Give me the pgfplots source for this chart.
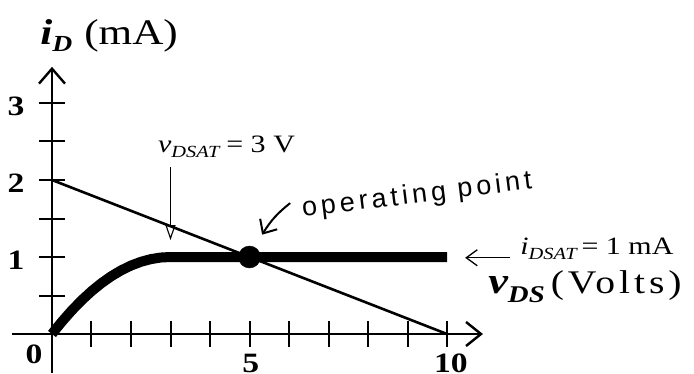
\documentclass[border=0pt]{standalone}
\usepackage{fontspec}
\setmainfont{Liberation Serif}[FakeStretch=1.2]
\newfontfamily\handfont{Liberation Sans}[LetterSpace=15]
\usepackage{pgfplots}
\pgfplotsset{compat=1.18}
\usetikzlibrary{arrows.meta}

% transfer characteristic of the device (mA against V)
\pgfplotstableread{
v     i
0     0
0.1   0.0656
0.25  0.1597
0.5   0.3056
0.75  0.4375
1     0.5556
1.25  0.6597
1.5   0.75
1.75  0.8264
2     0.8889
2.25  0.9375
2.5   0.9722
2.75  0.9931
3     1
10    1
}\idcurve

% load line
\pgfplotstableread{
v   i
0   2
10  0
}\loadline

\newcommand{\sz}[1]{\fontsize{#1}{#1}\selectfont}

\begin{document}
\begin{tikzpicture}
\useasboundingbox (-52pt,-39pt) rectangle (642pt,334pt);
\begin{axis}[
  at={(0,0)}, anchor=origin,
  x=39.5pt, y=77pt,
  xmin=-1.01, xmax=10.91, ymin=-0.5, ymax=3.47,
  axis lines=middle,
  clip=false,
  axis line style={line width=2.6pt},
  every inner x axis line/.append style={-{Straight Barb[length=15pt,width=24pt,line width=2.4pt]}},
  every inner y axis line/.append style={-{Straight Barb[length=15pt,width=26pt,line width=2.4pt]}},
  xtick={1,2,...,10}, ytick={0.5,1,1.5,2,2.5,3},
  xticklabels={}, yticklabels={},
  tick align=center, major tick length=26pt,
  tick style={line width=2pt, black},
]
\addplot[line width=10pt, line cap=butt, line join=round] table[x=v, y=i] {\idcurve};
\addplot[line width=2.6pt] table[x=v, y=i] {\loadline};
\addplot[only marks, mark=*, mark size=11pt, black] coordinates {(5,1)};

% tick numbers
\node[anchor=center, inner sep=0] at (axis cs:-0.456,-0.27) {\sz{28}\bfseries 0};
\node[anchor=north, inner sep=0] at (axis cs:5.03,-0.26) {\sz{28}\bfseries 5};
\node[anchor=north, inner sep=0] at (axis cs:10.1,-0.25) {\sz{28}\bfseries 10};
\node[anchor=center, inner sep=0] at (axis cs:-0.91,2.96) {\sz{28}\bfseries 3};
\node[anchor=center, inner sep=0] at (axis cs:-0.91,1.96) {\sz{28}\bfseries 2};
\node[anchor=center, inner sep=0] at (axis cs:-0.91,0.96) {\sz{28}\bfseries 1};

% axis titles
\node[anchor=base west, inner sep=0] at (axis cs:-0.30,3.76)
  {{\sz{36}\bfseries\itshape i\raisebox{-7pt}{\sz{23}D}}\hspace{12pt}{\sz{36}(mA)}};
\node[anchor=base west, inner sep=0] at (axis cs:11.04,0.53)
  {{\sz{37}\bfseries\itshape v\raisebox{-9pt}{\sz{24}DS}}\hspace{6pt}{\sz{33}\addfontfeatures{LetterSpace=12}(Volts)}};

% saturation voltage
\node[anchor=base west, inner sep=0] at (axis cs:2.68,2.36)
  {{\sz{25}\itshape v\raisebox{-5pt}{\sz{17}DSAT}}\hspace{7pt}{\sz{25}= 3 V}};
\draw[line width=1.1pt, -{Triangle[open, length=15pt, width=10pt, line width=1.1pt]}]
  (axis cs:3,2.17) -- (axis cs:3,1.22);

% saturation current
\draw[line width=1.3pt, -{Straight Barb[length=11pt, width=16pt, line width=1.3pt]}]
  (axis cs:11.59,0.99) -- (axis cs:10.46,0.99);
\node[anchor=base west, inner sep=0] at (axis cs:11.85,1.03)
  {{\sz{25}\itshape i\raisebox{-5pt}{\sz{17}DSAT}}\hspace{5pt}{\sz{25}= 1 mA}};

% operating point
\node[anchor=base west, inner sep=0, rotate=7] at (axis cs:6.35,1.52)
  {\handfont\sz{27}operating point};
\draw[line width=2pt, -{Straight Barb[length=11pt, width=20pt, line width=2pt]}]
  (axis cs:6.03,1.70) to[bend right=10] (axis cs:5.32,1.29);
\end{axis}
\end{tikzpicture}
\end{document}
